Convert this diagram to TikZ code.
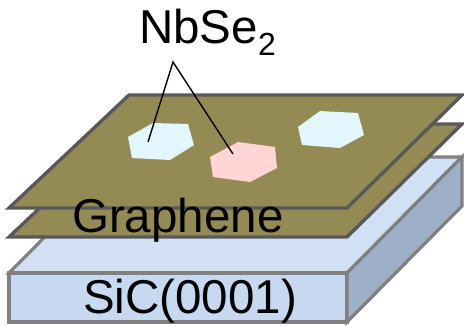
\documentclass[tikz,border=0pt]{standalone}
\usepackage{fontspec}
\setmainfont{Liberation Sans}
\begin{document}
\begin{tikzpicture}[x=1pt,y=-1pt,line join=miter,
  sicline/.style={draw=sicgray,line width=3.2pt},
  sheet/.style={draw=sheetgray,line width=3.4pt,fill=olive},
  flake/.style={draw=none},
  leader/.style={draw=black,line width=1.4pt},
  lbl/.style={inner sep=0pt,anchor=base west,font=\fontsize{47.5}{47.5}\selectfont}]
\definecolor{sicgray}{RGB}{128,128,128}
\definecolor{sheetgray}{RGB}{89,89,89}
\definecolor{olive}{RGB}{148,138,84}
\definecolor{sictop}{RGB}{209,224,245}
\definecolor{sicfront}{RGB}{198,217,241}
\definecolor{sicside}{RGB}{158,176,200}
\definecolor{flakeblue}{RGB}{225,247,253}
\definecolor{flakepink}{RGB}{255,213,213}
\useasboundingbox (0,0) rectangle (464,325);
% SiC substrate block
\path[sicline,fill=sictop] (9,273) -- (347,273) -- (462,157) -- (124,157) -- cycle;
\path[sicline,fill=sicfront] (9,273) rectangle (347,322);
\path[sicline,fill=sicside] (347,273) -- (462,157) -- (462,206) -- (347,322) -- cycle;
% two graphene layers
\path[sheet] (129,124) -- (462,124) -- (347,237) -- (9,237) -- cycle;
\path[sheet] (129,95) -- (462,95) -- (347,208) -- (9,208) -- cycle;
% NbSe2 flakes
\path[flake,fill=flakeblue] (128,137) -- (153,123) -- (188,124) -- (194,145) -- (170,160) -- (132,158) -- cycle;
\path[flake,fill=flakepink] (210,157) -- (238,142) -- (275,147) -- (277,168) -- (250,182) -- (213,177) -- cycle;
\path[flake,fill=flakeblue] (298,127) -- (320,111) -- (358,113) -- (364,135) -- (340,148) -- (302,145) -- cycle;
% labels
\node[lbl] (nbse) at (139,43) {NbSe\raisebox{-12pt}{\fontsize{32}{32}\selectfont 2}};
\node[lbl] (gr) at (72,232) {Graphene};
\node[lbl] (sic) at (83,313) {SiC(0001)};
% leader lines
\coordinate (apex) at (173,62);
\coordinate (f1) at (148,142);
\coordinate (f2) at (233,154);
\draw[leader] (f1) -- (apex) -- (f2);
\end{tikzpicture}
\end{document}
